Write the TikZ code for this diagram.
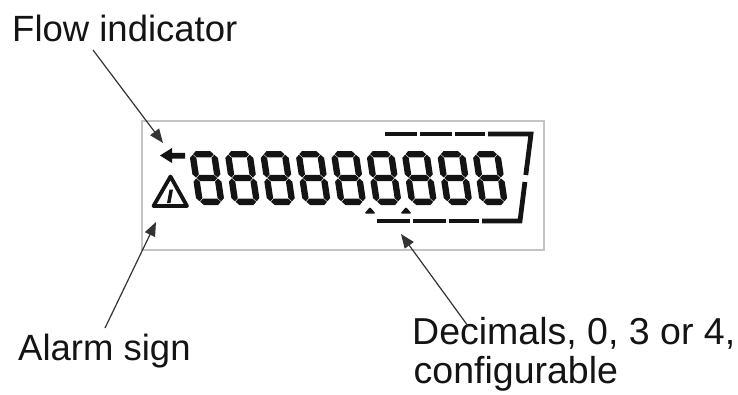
\documentclass[tikz,border=0pt]{standalone}
\usepackage{fontspec}
\setmainfont{Liberation Sans}
\usetikzlibrary{arrows.meta}
\definecolor{ink}{HTML}{141414}
\definecolor{wire}{HTML}{333333}
\definecolor{frame}{HTML}{C4C4C4}
\tikzset{
  conn/.style={draw=wire, line width=1.2pt, -{Triangle[length=14pt,width=11pt]}},
  lbl/.style={inner sep=0pt, anchor=base west, font=\fontsize{36.5}{38}\selectfont, text=ink},
  declbl/.style={lbl, font=\fontsize{37.5}{39}\selectfont},
  seg/.style={fill=ink, draw=none},
  bar/.style={draw=ink, line width=4.8pt},
}
% horizontal segment: from u=#1 to u=#2 at height v=#3 (thickness 6.4)
\newcommand{\hsegm}[3]{%
  \fill[seg] (#1,#3) -- (#1+3.2,#3+3.2) -- (#2-3.2,#3+3.2) -- (#2,#3) -- (#2-3.2,#3-3.2) -- (#1+3.2,#3-3.2) -- cycle;}
% vertical segment: at u=#1 from v=#2 to v=#3
\newcommand{\vsegm}[3]{%
  \fill[seg] (#1,#2) -- (#1+3.2,#2+3.2) -- (#1+3.2,#3-3.2) -- (#1,#3) -- (#1-3.2,#3-3.2) -- (#1-3.2,#2+3.2) -- cycle;}
\newcommand{\lcdeight}[1]{%
  \begin{scope}[shift={(#1,205)}, yscale=-1, xslant=0.15]
    \hsegm{3.7}{24.3}{3.2}
    \hsegm{3.7}{24.3}{27}
    \hsegm{3.7}{24.3}{50.8}
    \vsegm{3.2}{3.7}{26.5}
    \vsegm{3.2}{27.5}{50.3}
    \vsegm{24.8}{3.7}{26.5}
    \vsegm{24.8}{27.5}{50.3}
  \end{scope}}
\begin{document}
\begin{tikzpicture}[x=1pt,y=-1pt]
\useasboundingbox (0,0) rectangle (738,394);
% display frame
\node[draw=frame, line width=1.5pt, minimum width=402pt, minimum height=129pt, inner sep=0pt, anchor=north west] (display) at (141,120) {};
% digits
\foreach \k in {0,...,8} {
  \pgfmathsetmacro\xo{197+35.4*\k}
  \lcdeight{\xo}
}
% decimal points
\fill[seg, rounded corners=1pt] (364.5,213.5) -- (370,207) -- (375.5,213.5) -- cycle;
\fill[seg, rounded corners=1pt] (400.5,213.5) -- (406,207) -- (411.5,213.5) -- cycle;
% decimals bracket
\draw[bar] (385,134) -- (417,134);
\draw[bar] (420,134) -- (452,134);
\draw[bar] (455,134) -- (485,134);
\draw[bar, line join=miter] (488,134) -- (531,134) -- (525.8,175);
\draw[bar] (377,221) -- (410,221);
\draw[bar] (413,221) -- (446,221);
\draw[bar] (449,221) -- (479,221);
\draw[bar, line join=miter] (482,221) -- (520,221) -- (524.9,182);
% flow arrow symbol
\fill[seg] (160,155.5) -- (172,148) -- (172,152.8) -- (185,152.8) -- (185,158.6) -- (172,158.6) -- (172,163) -- cycle;
% alarm triangle
\draw[ink, line width=3.8pt, line join=round] (170.5,176.5) -- (153.5,206) -- (187,206) -- cycle;
\fill[seg] (169.5,189.5) -- (173,189.5) -- (170.5,203) -- (167,203) -- cycle;
% labels
\node[lbl] (flowlbl) at (12,41) {Flow indicator};
\node[lbl] (alarmlbl) at (18,360) {Alarm sign};
\node[declbl] (declbl1) at (412,344) {Decimals, 0, 3 or 4,};
\node[declbl] (declbl2) at (413.5,383) {configurable};
% connector ends
\coordinate (flowfrom) at (93,50);
\coordinate (flowtip) at (163,143);
\coordinate (alarmfrom) at (105,328);
\coordinate (alarmtip) at (156,222);
\coordinate (decfrom) at (468,326);
\coordinate (dectip) at (401,234);
\draw[conn] (flowfrom) -- (flowtip);
\draw[conn] (alarmfrom) -- (alarmtip);
\draw[conn] (decfrom) -- (dectip);
\end{tikzpicture}
\end{document}
